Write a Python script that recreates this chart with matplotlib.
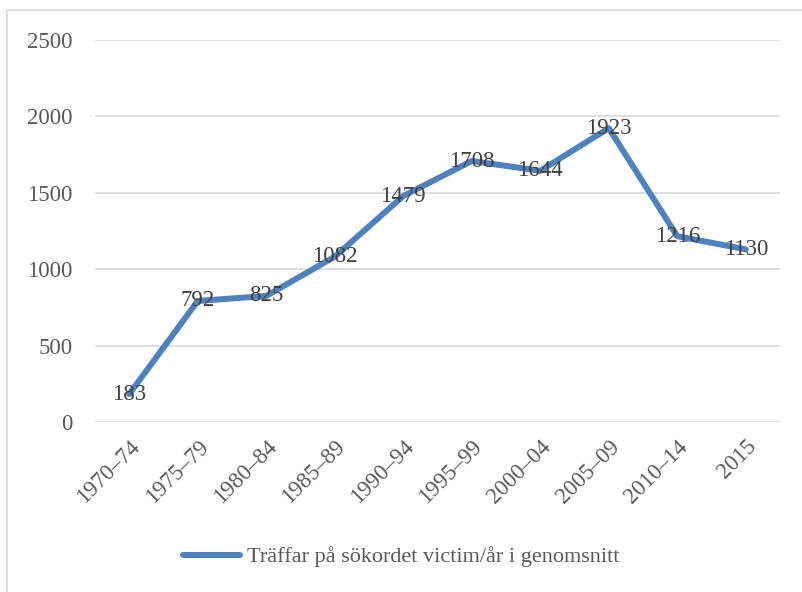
import matplotlib
matplotlib.use("Agg")
import matplotlib.pyplot as plt
from matplotlib.patches import Rectangle

# data
categories = ["1970–74", "1975–79", "1980–84", "1985–89", "1990–94",
              "1995–99", "2000–04", "2005–09", "2010–14", "2015"]
values = [183, 792, 825, 1082, 1479, 1708, 1644, 1923, 1216, 1130]
series_name = "Träffar på sökordet victim/år i genomsnitt"
yticks = [0, 500, 1000, 1500, 2000, 2500]

plt.rcParams['font.family'] = ['Liberation Serif', 'DejaVu Serif']

W, H = 802, 592
fig = plt.figure(figsize=(W / 100, H / 100), dpi=100)

# outer chart frame
fig.patches.append(Rectangle((7 / W, -0.01), 1.0, (H - 10) / H + 0.01,
                             transform=fig.transFigure, fill=False,
                             edgecolor='#d9d9d9', linewidth=1.2))

ax = fig.add_axes([95 / W, 170 / H, 685 / W, 382 / H])
x = list(range(len(categories)))
line, = ax.plot(x, values, color='#4f81bd', linewidth=4.3,
                solid_joinstyle='round', solid_capstyle='round',
                label=series_name, zorder=3)

for xi, v in zip(x, values):
    ax.text(xi, v, str(v), ha='center', va='center', fontsize=16.5,
            color='#404040', zorder=4)

ax.set_xlim(-0.5, len(categories) - 0.5)
ax.set_ylim(0, 2500)
ax.set_yticks(yticks)
ax.set_yticklabels([str(t) for t in yticks], fontsize=16.5, color='#595959')
ax.set_xticks(x)
ax.set_xticklabels(categories, rotation=45, ha='right',
                   rotation_mode='anchor', fontsize=16.5, color='#595959')
ax.tick_params(axis='both', length=0)
ax.tick_params(axis='y', pad=16)
ax.tick_params(axis='x', pad=10)
ax.grid(axis='y', color='#d9d9d9', linewidth=1.2)
ax.set_axisbelow(True)
for s in ax.spines.values():
    s.set_visible(False)

fig.legend(handles=[line], loc='center', bbox_to_anchor=(0.5, 35 / H),
           frameon=False, fontsize=16, handlelength=2.6, handletextpad=0.3,
           labelcolor='#595959')

fig.savefig("out.png", dpi=100)
